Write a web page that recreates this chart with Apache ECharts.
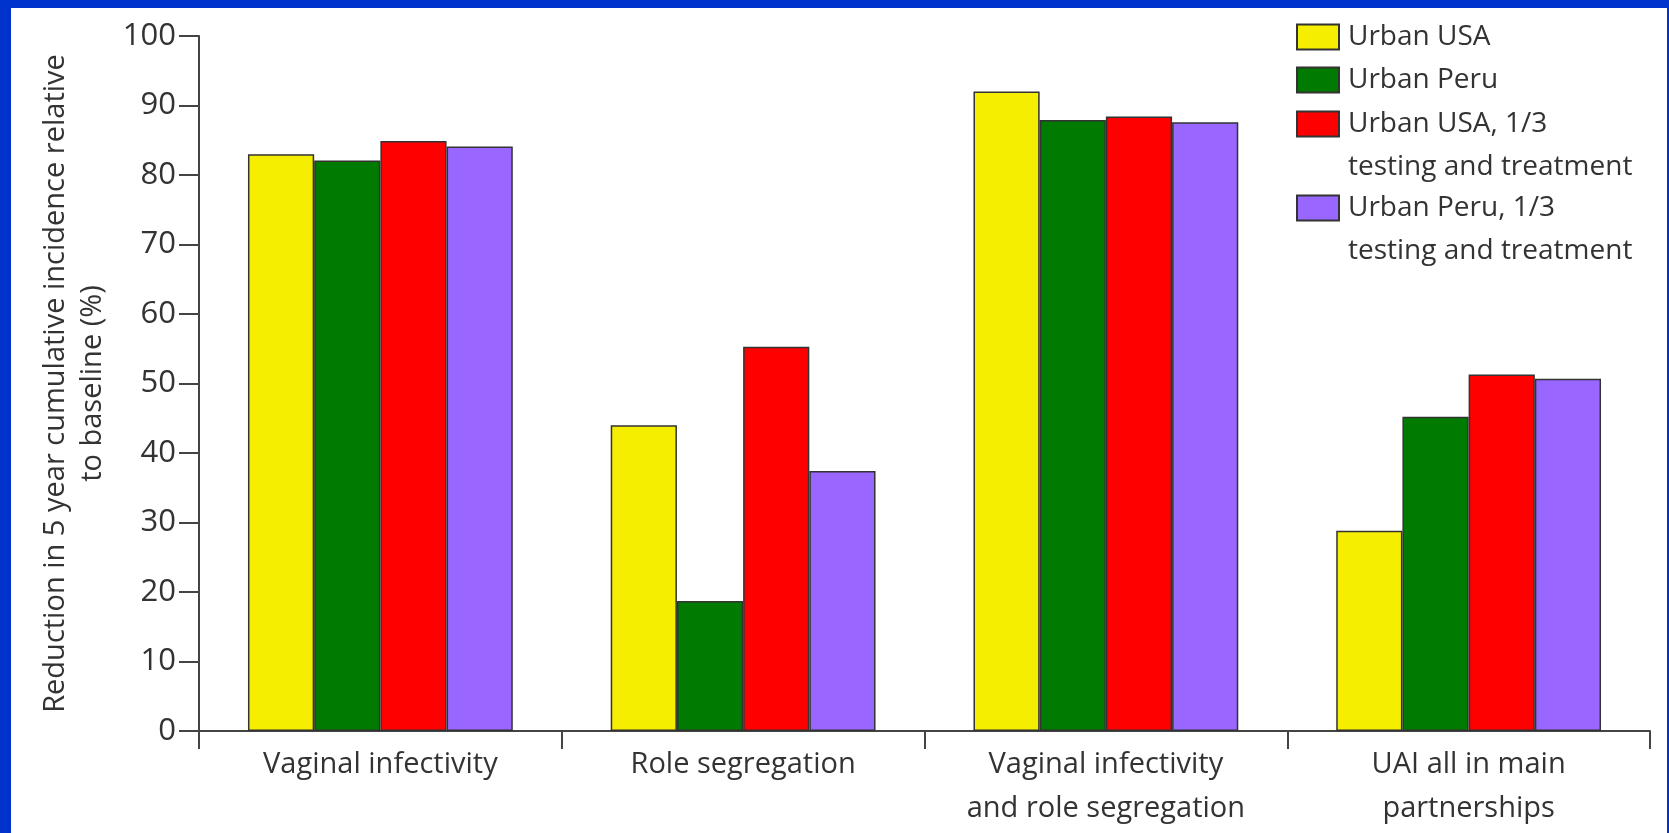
<!DOCTYPE html>
<html>
<head>
<meta charset="utf-8">
<script src="https://cdn.jsdelivr.net/npm/echarts@6/dist/echarts.min.js"></script>
<style>
  html, body { margin: 0; padding: 0; width: 1669px; height: 833px; overflow: hidden; background: #0032cc; }
  #frame { position: absolute; left: 11px; top: 8px; width: 1656px; height: 825px; background: #ffffff; }
  #chart { position: absolute; left: 0; top: 0; width: 1669px; height: 833px; }
</style>
</head>
<body>
<div id="frame"></div>
<div id="chart"></div>
<script>
const categories = [
  'Vaginal infectivity',
  'Role segregation',
  'Vaginal infectivity\nand role segregation',
  'UAI all in main\npartnerships'
];
const seriesNames = [
  'Urban USA',
  'Urban Peru',
  'Urban USA, 1/3\ntesting and treatment',
  'Urban Peru, 1/3\ntesting and treatment'
];
const urbanUSA = [83.0, 44.0, 92.0, 28.8];
const urbanPeru = [82.1, 18.7, 87.9, 45.2];
const urbanUSA13 = [84.9, 55.3, 88.4, 51.3];
const urbanPeru13 = [84.1, 37.4, 87.6, 50.7];
const yTicks = { min: 0, max: 100, interval: 10 };

const colors = ['#f5ee00', '#007a00', '#ff0000', '#9966ff'];
const values = [urbanUSA, urbanPeru, urbanUSA13, urbanPeru13];
const FONT = 'Open Sans';
const TEXT = '#333333';

const chart = echarts.init(document.getElementById('chart'), null, { renderer: 'canvas' });

const legendTops = [15.5, 58.5, 59.5, 143.5];
const legends = seriesNames.map((n, i) => ({
  orient: 'vertical',
  left: 1296,
  top: legendTops[i],
  padding: 0,
  itemWidth: 42,
  itemHeight: 25,
  itemGap: 0,
  icon: 'rect',
  selectedMode: false,
  data: [n],
  formatter: (name) => name.indexOf('\n') >= 0 ? '\n' + name : name,
  itemStyle: { borderColor: '#333', borderWidth: 2 },
  textStyle: { fontFamily: FONT, fontSize: 28, lineHeight: 43, color: TEXT, padding: [0, 0, 0, 4] }
}));

chart.setOption({
  backgroundColor: 'transparent',
  animation: false,
  color: colors,
  legend: legends,
  grid: { left: 199, right: 19, top: 36, bottom: 102, containLabel: false },
  xAxis: {
    type: 'category',
    data: categories,
    boundaryGap: true,
    axisLine: { show: true, lineStyle: { color: '#444', width: 2 } },
    axisTick: { show: true, length: 18, alignWithLabel: false, lineStyle: { color: '#444', width: 2 } },
    axisLabel: { fontFamily: FONT, fontSize: 29, lineHeight: 44, color: TEXT, margin: 12, interval: 0 }
  },
  yAxis: {
    type: 'value',
    min: yTicks.min, max: yTicks.max, interval: yTicks.interval,
    splitLine: { show: false },
    axisLine: { show: true, lineStyle: { color: '#444', width: 2 } },
    axisTick: { show: true, length: 20, lineStyle: { color: '#444', width: 2 } },
    axisLabel: { fontFamily: FONT, fontSize: 31, color: TEXT, margin: 23 },
    name: 'Reduction in 5 year cumulative incidence relative\nto baseline (%)',
    nameLocation: 'middle',
    nameRotate: 90,
    nameGap: 88,
    nameTextStyle: { fontFamily: FONT, fontSize: 29, lineHeight: 37, color: TEXT }
  },
  series: seriesNames.map((n, i) => ({
    name: n,
    type: 'bar',
    data: values[i],
    barGap: '0%',
    barCategoryGap: '27%',
    itemStyle: { color: colors[i], borderColor: '#333', borderWidth: 1.5 }
  }))
});
</script>
</body>
</html>
